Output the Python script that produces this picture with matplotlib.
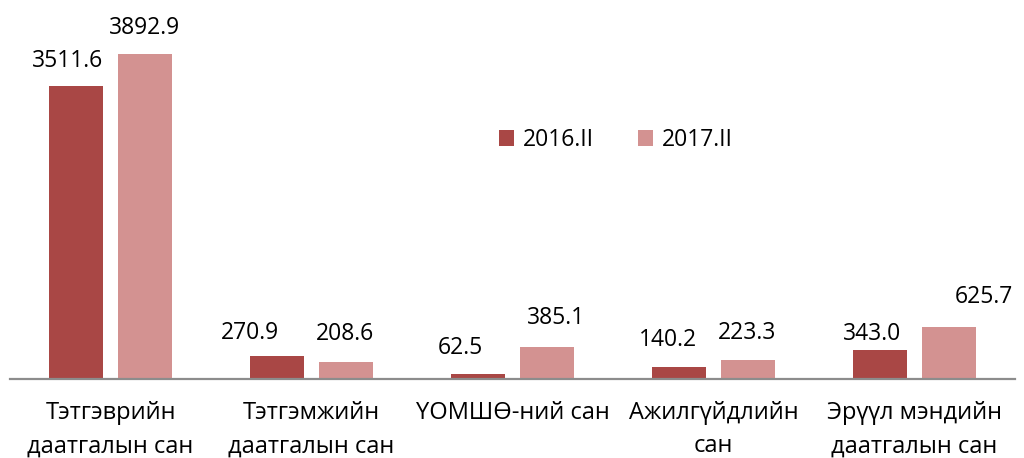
import matplotlib
matplotlib.use("Agg")
import matplotlib.pyplot as plt
import numpy as np

plt.rcParams['font.family'] = ['Open Sans', 'DejaVu Sans']

# ---- data ----
categories = [
    "Тэтгэврийн\nдаатгалын сан",
    "Тэтгэмжийн\nдаатгалын сан",
    "ҮОМШӨ-ний сан",
    "Ажилгүйдлийн\nсан",
    "Эрүүл мэндийн\nдаатгалын сан",
]
series_names = ["2016.II", "2017.II"]
values_2016 = [3511.6, 270.9, 62.5, 140.2, 343.0]
values_2017 = [3892.9, 208.6, 385.1, 223.3, 625.7]

# label offsets (pixels) as placed in the original chart
offsets_2016 = [(-9, 25), (-27, 23), (-18, 26), (-11, 27), (-8, 16)]
offsets_2017 = [(0, 26), (-1, 28), (9, 29), (-1, 27), (35, 30)]

col_2016 = '#A94745'
col_2017 = '#D39291'

fig = plt.figure(figsize=(10.24, 4.58), dpi=100)
ax = fig.add_axes([10 / 1024, 79 / 458, 1005 / 1024, 379 / 458])

x = np.arange(len(categories))
w = 0.27
gap = 0.07
b1 = ax.bar(x - (w + gap) / 2, values_2016, w, color=col_2016, label=series_names[0])
b2 = ax.bar(x + (w + gap) / 2, values_2017, w, color=col_2017, label=series_names[1])

for bars, vals, offs in [(b1, values_2016, offsets_2016), (b2, values_2017, offsets_2017)]:
    for rect, v, (dx, dy) in zip(bars, vals, offs):
        ax.annotate(f"{v:.1f}", (rect.get_x() + rect.get_width() / 2, rect.get_height()),
                    xytext=(dx, dy), textcoords='offset pixels',
                    ha='center', va='center', fontsize=16.5, color='black')

ax.set_xlim(-0.5, len(categories) - 0.5)
ax.set_ylim(0, 379 / 0.0834)
ax.set_yticks([])
ax.set_xticks(x)
ax.set_xticklabels(categories, fontsize=17, linespacing=1.5)
ax.tick_params(axis='x', length=0, pad=16)
for s in ['top', 'right', 'left']:
    ax.spines[s].set_visible(False)
ax.spines['bottom'].set_color('#8C8C8C')
ax.spines['bottom'].set_linewidth(1.6)

ax.legend(loc='center', bbox_to_anchor=(616 / 1024, 1 - 140 / 458), bbox_transform=fig.transFigure,
          ncol=2, frameon=False, fontsize=16.5, handlelength=0.65, handleheight=0.65,
          handletextpad=0.4, columnspacing=1.9)

fig.savefig('out.png', dpi=100, facecolor='white')
